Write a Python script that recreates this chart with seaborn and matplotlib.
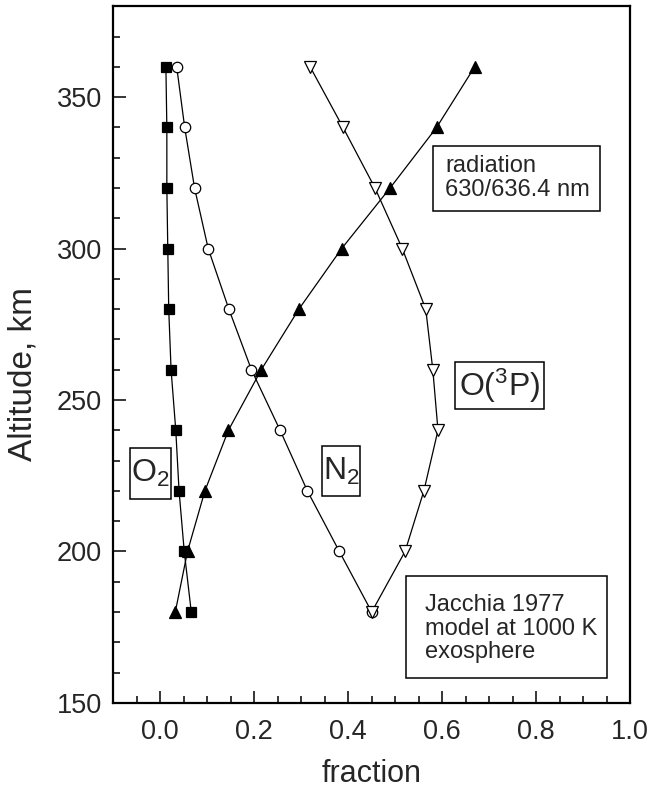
import numpy as np
import pandas as pd
import matplotlib
matplotlib.use("Agg")
import matplotlib.pyplot as plt
from matplotlib.patches import Rectangle
import seaborn as sns

# Altitude grid, km
altitude = [180, 200, 220, 240, 260, 280, 300, 320, 340, 360]

# Fractions (Jacchia 1977, 1000 K exosphere)
o2_frac = [0.066, 0.051, 0.040, 0.033, 0.023, 0.018, 0.016, 0.014, 0.014, 0.012]
n2_frac = [0.450, 0.381, 0.313, 0.255, 0.194, 0.146, 0.102, 0.073, 0.052, 0.035]
o3p_frac = [0.450, 0.521, 0.561, 0.591, 0.580, 0.565, 0.515, 0.457, 0.389, 0.319]
rad_frac = [0.032, 0.058, 0.095, 0.145, 0.215, 0.295, 0.386, 0.489, 0.588, 0.669]

df = pd.concat([
    pd.DataFrame({'alt': altitude, 'frac': o2_frac, 'species': 'O2'}),
    pd.DataFrame({'alt': altitude, 'frac': n2_frac, 'species': 'N2'}),
    pd.DataFrame({'alt': altitude, 'frac': o3p_frac, 'species': 'O3P'}),
    pd.DataFrame({'alt': altitude, 'frac': rad_frac, 'species': 'rad'}),
])

sns.set_style('ticks')
plt.rcParams['font.family'] = ['Liberation Sans', 'DejaVu Sans']
plt.rcParams['mathtext.fontset'] = 'custom'
plt.rcParams['mathtext.rm'] = 'Liberation Sans'
plt.rcParams['mathtext.it'] = 'Liberation Sans:italic'

fig = plt.figure(figsize=(6.51, 7.95), dpi=100)
ax = fig.add_axes([0.174, 0.116, 0.794, 0.876])

# marker style per species
styles = {
    'O2':  dict(marker='s', mfc='black', ms=7.5),
    'N2':  dict(marker='o', mfc='white', ms=7.5),
    'O3P': dict(marker='v', mfc='white', ms=9),
    'rad': dict(marker='^', mfc='black', ms=9),
}
for sp, st in styles.items():
    sub = df[df['species'] == sp]
    sns.lineplot(data=sub, x='frac', y='alt', sort=False, estimator=None, ax=ax,
                 color='black', lw=0.9, marker=st['marker'], markersize=st['ms'],
                 markerfacecolor=st['mfc'], markeredgecolor='black',
                 markeredgewidth=0.9, legend=False)

ax.set_xlim(-0.1, 1.0)
ax.set_ylim(150, 380)
ax.set_xticks(np.arange(0, 1.01, 0.2))
ax.set_xticks(np.arange(-0.05, 1.0, 0.05), minor=True)
ax.set_yticks([150, 200, 250, 300, 350])
ax.set_yticks(np.arange(160, 381, 10), minor=True)
ax.tick_params(which='both', direction='in', top=False, right=False, width=1.3)
ax.tick_params(which='major', length=9, labelsize=19.5)
ax.tick_params(axis='y', which='major', pad=8)
ax.tick_params(axis='x', which='major', pad=12)
ax.tick_params(which='minor', length=5)
for s in ax.spines.values():
    s.set_linewidth(1.6)
    s.set_color('black')

ax.set_xlabel('fraction', fontsize=22, labelpad=10)
ax.set_ylabel('Altitude, km', fontsize=24)
ax.yaxis.set_label_coords(-0.145, 0.472)

# labelled boxes
def box(x0, x1, y0, y1):
    ax.add_patch(Rectangle((x0, y0), x1 - x0, y1 - y0, fill=True, fc='white',
                           ec='black', lw=1.1, zorder=3))

box(-0.064, 0.022, 217.4, 234.0)
ax.text(-0.021, 225.7, r'O$_2$', fontsize=23, ha='center', va='center', zorder=4)

box(0.344, 0.426, 218.2, 234.9)
ax.text(0.385, 226.5, r'N$_2$', fontsize=23, ha='center', va='center', zorder=4)

box(0.628, 0.817, 247.0, 262.4)
ax.text(0.722, 254.7, r'O($^3$P)', fontsize=23, ha='center', va='center', zorder=4)

box(0.58, 0.936, 312.5, 333.9)
ax.text(0.607, 323.2, 'radiation\n630/636.4 nm', fontsize=17, ha='left',
        va='center', linespacing=1.1, zorder=4)

box(0.524, 0.95, 158.2, 191.8)
ax.text(0.563, 174.5, 'Jacchia 1977\nmodel at 1000 K\nexosphere', fontsize=17,
        ha='left', va='center', linespacing=1.1, zorder=4)

plt.savefig('out.png', dpi=100)
